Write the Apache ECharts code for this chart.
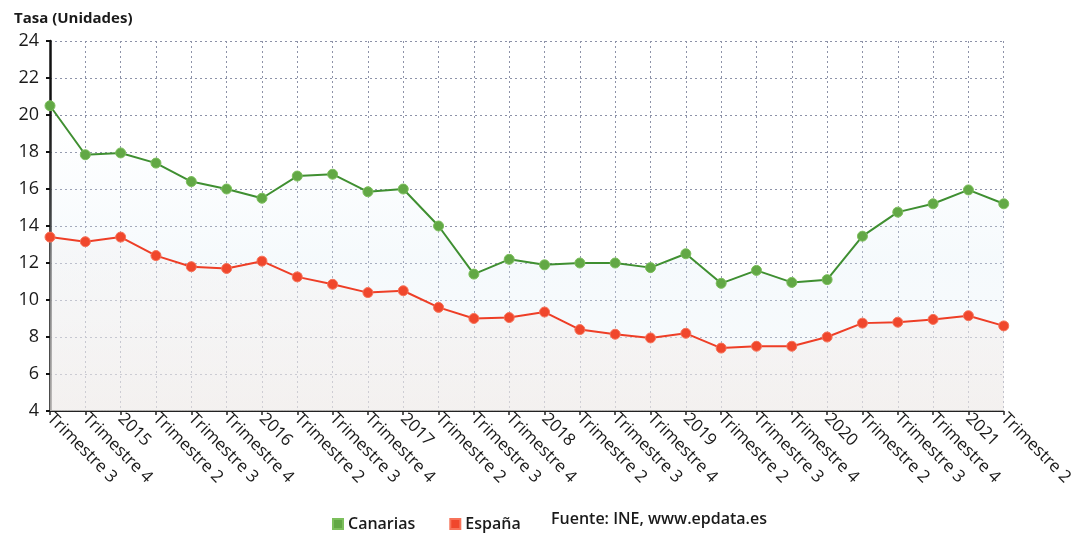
<!DOCTYPE html>
<html>
<head>
<meta charset="utf-8">
<script src="https://cdn.jsdelivr.net/npm/echarts@6/dist/echarts.min.js"></script>
<style>
html,body{margin:0;padding:0;background:#fff;overflow:hidden;}
#chart{width:1076px;height:533px;}
</style>
</head>
<body>
<div id="chart"></div>
<script>
const categories = ["Trimestre 3","Trimestre 4","2015","Trimestre 2","Trimestre 3","Trimestre 4","2016","Trimestre 2","Trimestre 3","Trimestre 4","2017","Trimestre 2","Trimestre 3","Trimestre 4","2018","Trimestre 2","Trimestre 3","Trimestre 4","2019","Trimestre 2","Trimestre 3","Trimestre 4","2020","Trimestre 2","Trimestre 3","Trimestre 4","2021","Trimestre 2"];
const canarias = [20.5,17.85,17.95,17.4,16.4,16.0,15.5,16.7,16.8,15.85,16.0,14.0,11.4,12.2,11.9,12.0,12.0,11.75,12.5,10.9,11.6,10.95,11.1,13.45,14.75,15.2,15.95,15.2];
const espana = [13.4,13.15,13.4,12.4,11.8,11.7,12.1,11.25,10.85,10.4,10.5,9.6,9.0,9.05,9.35,8.4,8.15,7.95,8.2,7.4,7.5,7.5,8.0,8.75,8.8,8.95,9.15,8.6];
const yMin = 4, yMax = 24, yStep = 2;
const seriesNames = ["Canarias","España"];
const sourceText = "Fuente: INE, www.epdata.es";
const axisTitle = "Tasa (Unidades)";

const FONT = "'Open Sans', 'Noto Sans', sans-serif";
const chart = echarts.init(document.getElementById('chart'), null, {renderer:'canvas', width:1076, height:533});
const gridLine = {show:true, lineStyle:{color:'#8d92a8', type:[2,3], width:1}};
chart.setOption({
  animation:false,
  backgroundColor:'#ffffff',
  textStyle:{fontFamily:FONT},
  title:{
    text:axisTitle, left:9, top:6,
    textStyle:{fontFamily:FONT, fontSize:15, fontWeight:'bold', color:'#1a1a1a'}
  },
  legend:{
    data:seriesNames, left:327, top:511, itemWidth:10, itemHeight:10, itemGap:34,
    icon:'rect',
    textStyle:{fontFamily:FONT, fontSize:16, fontWeight:600, color:'#1a1a1a'}
  },
  graphic:[{
    type:'text', left:551, top:511,
    style:{text:sourceText, font:"600 16px 'Open Sans', sans-serif", fill:'#1a1a1a'}
  }],
  grid:{left:50, right:64, top:41, bottom:122, containLabel:false},
  xAxis:{
    type:'category', data:categories, boundaryGap:false,
    axisLine:{show:true, lineStyle:{color:'#222', width:2, type:[2,1]}},
    axisTick:{show:true, length:4, lineStyle:{color:'#222', width:1.5}},
    axisLabel:{rotate:-45, interval:0, margin:5, fontFamily:FONT, fontSize:17, color:'#1a1a1a'},
    splitLine:gridLine
  },
  yAxis:{
    type:'value', min:yMin, max:yMax, interval:yStep,
    axisLine:{show:true, lineStyle:{color:'#111', width:2.5}},
    axisTick:{show:true, length:4, lineStyle:{color:'#111', width:2}},
    axisLabel:{margin:11, fontFamily:FONT, fontSize:18, fontWeight:500, color:'#1a1a1a'},
    splitLine:gridLine
  },
  series:[
    {
      name:seriesNames[0], type:'line', data:canarias,
      symbol:'circle', symbolSize:10,
      lineStyle:{color:'#3f8f31', width:2},
      itemStyle:{color:'#62a845', borderColor:'#7cbf5c', borderWidth:1},
      areaStyle:{color:{type:'linear',x:0,y:0,x2:0,y2:1,colorStops:[{offset:0,color:'rgba(235,245,250,0.0)'},{offset:0.5,color:'rgba(225,238,246,0.45)'},{offset:1,color:'rgba(232,240,245,0.5)'}]}},
      z:3
    },
    {
      name:seriesNames[1], type:'line', data:espana,
      symbol:'circle', symbolSize:10,
      lineStyle:{color:'#ee3e26', width:2},
      itemStyle:{color:'#f0472c', borderColor:'#f7735a', borderWidth:1},
      areaStyle:{color:{type:'linear',x:0,y:0,x2:0,y2:1,colorStops:[{offset:0,color:'rgba(245,238,236,0.3)'},{offset:1,color:'rgba(240,232,228,0.75)'}]}},
      z:4
    }
  ]
});
</script>
</body>
</html>
